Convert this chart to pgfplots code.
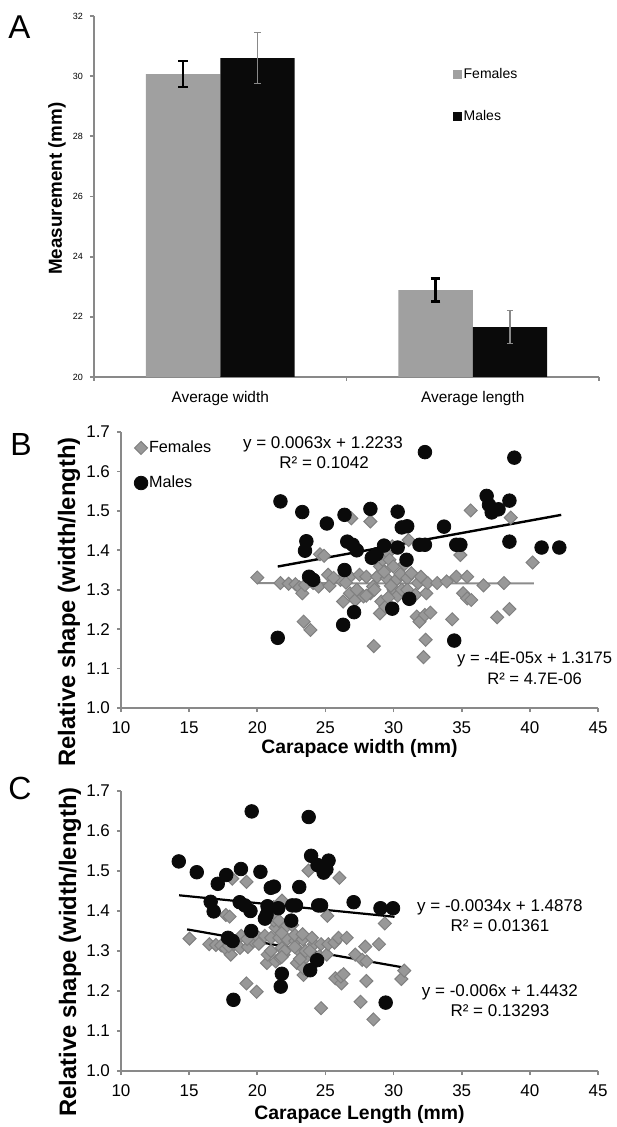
\documentclass[border=0pt]{standalone}
\usepackage{fontspec}
\setmainfont{Liberation Sans}
\usepackage{pgfplots}
\usepackage{pgfplotstable}
\pgfplotsset{compat=1.18}
\definecolor{axgray}{RGB}{137,137,137}
\definecolor{fbar}{RGB}{160,160,160}
\definecolor{mbar}{RGB}{10,10,10}
\definecolor{fdia}{RGB}{152,152,152}
\definecolor{fdiaedge}{RGB}{128,128,128}
\definecolor{fline}{RGB}{140,140,140}

% females: width, ratio (width/length), length
\pgfplotstableread{
w r l
20.0 1.331 15.03
21.7 1.317 16.48
22.3 1.315 16.96
22.8 1.314 17.35
23.1 1.306 17.69
23.4 1.219 19.20
23.9 1.198 19.95
23.3 1.291 18.05
23.5 1.312 17.91
24.1 1.317 18.30
24.5 1.308 18.73
24.6 1.390 17.70
25.2 1.338 18.83
25.3 1.310 19.31
26.1 1.325 19.70
26.3 1.270 20.71
26.8 1.333 20.11
26.8 1.291 20.76
26.9 1.481 18.16
27.2 1.274 21.35
27.5 1.338 20.55
27.8 1.283 21.67
28.0 1.333 21.01
28.3 1.473 19.21
28.3 1.291 21.92
28.5 1.308 21.79
28.55 1.157 24.68
28.8 1.333 21.61
29.0 1.240 23.39
29.0 1.359 21.34
29.1 1.270 22.91
29.2 1.376 21.22
29.4 1.257 23.39
29.5 1.329 22.20
29.6 1.393 21.25
29.7 1.376 21.58
29.98 1.359 22.06
30.2 1.325 22.79
30.0 1.300 23.08
30.3 1.285 23.58
29.8 1.310 22.75
28.6 1.300 22.00
29.3 1.345 21.78
30.5 1.340 22.76
31.0 1.329 23.33
31.3 1.342 23.32
31.1 1.426 21.81
30.8 1.365 22.56
31.6 1.287 24.55
31.7 1.232 25.73
31.8 1.317 24.15
31.9 1.219 26.17
32.0 1.333 24.01
32.2 1.129 28.52
32.3 1.236 26.13
32.35 1.173 27.58
32.4 1.291 25.10
32.5 1.317 24.68
32.7 1.242 26.33
33.2 1.317 25.21
33.9 1.321 25.66
34.3 1.225 28.00
34.6 1.333 25.96
34.9 1.388 25.14
35.1 1.291 27.19
35.4 1.333 26.56
35.4 1.278 27.70
35.66 1.501 23.76
35.7 1.274 28.02
36.6 1.311 27.92
37.6 1.230 30.57
38.1 1.317 28.93
38.5 1.251 30.78
38.6 1.483 26.03
40.2 1.369 29.36
27.3 1.300 21.00
28.0 1.285 21.79
29.6 1.280 23.13
30.6 1.300 23.54
31.0 1.300 23.85
26.5 1.318 20.11
25.6 1.330 19.25
29.9 1.410 21.21
24.9 1.386 17.97
}\females

% males: width, ratio (width/length), length
\pgfplotstableread{
w r l
21.7 1.524 14.24
21.5 1.178 18.25
23.3 1.497 15.56
23.6 1.423 16.58
23.5 1.399 16.80
23.8 1.333 17.85
24.1 1.325 18.19
25.1 1.468 17.10
26.4 1.490 17.72
26.6 1.422 18.71
27.0 1.414 19.09
27.3 1.400 19.50
26.4 1.350 19.56
27.1 1.243 21.80
26.3 1.211 21.72
28.3 1.505 18.80
28.4 1.381 20.56
28.75 1.390 20.68
29.3 1.412 20.75
30.3 1.498 20.23
30.3 1.407 21.54
30.6 1.458 20.99
31.0 1.461 21.22
30.95 1.376 22.49
29.9 1.252 23.88
31.15 1.277 24.39
31.9 1.414 22.56
32.3 1.414 22.84
32.3 1.649 19.59
33.7 1.460 23.08
34.6 1.414 24.47
34.9 1.414 24.68
34.45 1.171 29.42
36.83 1.538 23.95
37.0 1.515 24.42
37.2 1.496 24.87
37.7 1.504 25.07
38.5 1.526 25.23
38.5 1.422 27.07
38.86 1.635 23.77
40.86 1.407 29.04
42.16 1.407 29.96
}\males

\pgfplotsset{
  myaxis/.style={
    scale only axis, clip=false,
    axis x line*=bottom, axis y line*=left,
    axis line style={axgray, line width=0.9pt},
    tick style={axgray, line width=0.9pt},
    tick align=outside, major tick length=2pt,
    /pgf/number format/assume math mode=true,
  },
  femmark/.style={only marks, mark=square*, mark size=2.3pt,
    mark options={rotate=45, fill=fdia, draw=fdiaedge, line width=0.5pt}},
  malemark/.style={only marks, mark=*, mark size=3.4pt,
    mark options={fill=mbar, draw=mbar}},
}

\begin{document}
\begin{tikzpicture}
\useasboundingbox (0,0) rectangle (308pt,-563.5pt);

% ---------- Panel A ----------
\begin{axis}[myaxis,
  at={(47pt,-188.5pt)}, anchor=south west,
  width=252.5pt, height=180.5pt,
  xmin=-0.5, xmax=1.5, ymin=20, ymax=32,
  ytick={20,22,24,26,28,30,32},
  y tick label style={font=\fontsize{4.5}{5}\selectfont},
  xtick={-0.5,0.5,1.5}, xticklabels={,,},
  extra x ticks={0,1},
  extra x tick labels={Average width, Average length},
  extra x tick style={major tick length=0pt,
     tick label style={font=\fontsize{7.7}{9}\selectfont, yshift=-3.5pt}},
  ylabel={\bfseries Measurement (mm)},
  ylabel style={font=\fontsize{9.4}{11}\selectfont,
     at={(axis description cs:-0.073,0.522)}, anchor=center},
  legend style={draw=none, fill=none, at={(axis description cs:0.711,0.859)},
     anchor=north west, font=\fontsize{7}{8}\selectfont, row sep=13pt,
     inner sep=0pt, nodes={inner sep=0.6pt}},
  legend cell align=left,
  legend image code/.code={\path[#1, draw=none] (0pt,-2.1pt) rectangle (4.5pt,2.4pt);},
]
\addplot[ybar, bar width=0.295, bar shift=0pt, fill=fbar, draw=none,
  error bars/.cd, y dir=both, y explicit,
  error bar style={black, line width=1.2pt},
  error mark options={black, line width=1.2pt, mark size=2.4pt, rotate=90}]
  coordinates {(-0.1475,30.07) +- (0,0.43) (0.8525,22.89) +- (0,0.38)};
\addlegendentry{Females}
\addplot[ybar, bar width=0.295, bar shift=0pt, fill=mbar, draw=none,
  error bars/.cd, y dir=both, y explicit,
  error bar style={axgray, line width=0.8pt},
  error mark options={axgray, line width=0.8pt, mark size=1.6pt, rotate=90}]
  coordinates {(0.1475,30.60) +- (0,0.85) (1.1475,21.66) +- (0,0.55)};
\addlegendentry{Males}
\end{axis}
\node[anchor=north west, inner sep=0pt, font=\fontsize{16.5}{17}\selectfont] at (4pt,-7.5pt) {A};

% ---------- Panel B ----------
\begin{axis}[myaxis,
  at={(60.5pt,-354pt)}, anchor=south west,
  width=238.5pt, height=138pt,
  xmin=10, xmax=45, ymin=1, ymax=1.7,
  xtick={10,15,20,25,30,35,40,45},
  ytick={1.0,1.1,1.2,1.3,1.4,1.5,1.6,1.7},
  y tick label style={/pgf/number format/.cd, fixed, fixed zerofill, precision=1},
  tick label style={font=\fontsize{8.5}{10}\selectfont},
  x tick label style={yshift=-1.5pt},
  xlabel={\bfseries Carapace width (mm)},
  xlabel style={font=\fontsize{9.7}{11}\selectfont,
     at={(axis description cs:0.5,-0.148)}, anchor=center},
  ylabel={\bfseries Relative shape (width/length)},
  ylabel style={font=\fontsize{11.9}{13}\selectfont,
     at={(axis description cs:-0.109,0.384)}, anchor=center},
  legend style={draw=none, fill=none, at={(axis description cs:0.027,0.975)},
     anchor=north west, font=\fontsize{8.1}{9}\selectfont, row sep=9pt,
     inner sep=0pt, nodes={inner sep=0.6pt}},
  legend cell align=left,
  legend image code/.code={\draw[#1] plot coordinates {(3pt,0pt)};},
]
\addplot[femmark] table[x=w, y=r] {\females};
\addlegendentry{Females}
\addplot[malemark] table[x=w, y=r] {\males};
\addlegendentry{Males}
\addplot[fline, line width=1pt, forget plot] coordinates {(20.0,1.3167) (40.3,1.3159)};
\addplot[black, line width=1.2pt, forget plot] coordinates {(21.5,1.3588) (42.3,1.4898)};
\node[font=\fontsize{8.5}{10}\selectfont] at (axis cs:24.82,1.670) {y = 0.0063x + 1.2233};
\node[font=\fontsize{8.5}{10}\selectfont] at (axis cs:24.9,1.622) {R² = 0.1042};
\node[font=\fontsize{8.3}{10}\selectfont] at (axis cs:40.35,1.122) {y = -4E-05x + 1.3175};
\node[font=\fontsize{8.3}{10}\selectfont] at (axis cs:40.35,1.074) {R² = 4.7E-06};
\end{axis}
\node[anchor=north west, inner sep=0pt, font=\fontsize{16}{17}\selectfont] at (5pt,-216.5pt) {B};

% ---------- Panel C ----------
\begin{axis}[myaxis,
  at={(60.5pt,-535.5pt)}, anchor=south west,
  width=238.5pt, height=140pt,
  xmin=10, xmax=45, ymin=1, ymax=1.7,
  xtick={10,15,20,25,30,35,40,45},
  ytick={1.0,1.1,1.2,1.3,1.4,1.5,1.6,1.7},
  y tick label style={/pgf/number format/.cd, fixed, fixed zerofill, precision=1},
  tick label style={font=\fontsize{8.5}{10}\selectfont},
  x tick label style={yshift=-1.5pt},
  xlabel={\bfseries Carapace Length (mm)},
  xlabel style={font=\fontsize{9.7}{11}\selectfont,
     at={(axis description cs:0.5,-0.155)}, anchor=center},
  ylabel={\bfseries Relative shape (width/length)},
  ylabel style={font=\fontsize{11.9}{13}\selectfont,
     at={(axis description cs:-0.107,0.425)}, anchor=center},
]
\addplot[femmark] table[x=l, y=r] {\females};
\addplot[malemark] table[x=l, y=r] {\males};
\addplot[black, line width=1.1pt] coordinates {(14.26,1.4393) (30.07,1.3856)};
\addplot[black, line width=1.1pt] coordinates {(14.85,1.3541) (30.9,1.2578)};
\node[font=\fontsize{8.5}{10}\selectfont] at (axis cs:37.8,1.41) {y = -0.0034x + 1.4878};
\node[font=\fontsize{8.5}{10}\selectfont] at (axis cs:37.8,1.3625) {R² = 0.01361};
\node[font=\fontsize{8.5}{10}\selectfont] at (axis cs:37.8,1.1975) {y = -0.006x + 1.4432};
\node[font=\fontsize{8.5}{10}\selectfont] at (axis cs:37.8,1.15) {R² = 0.13293};
\end{axis}
\node[anchor=north west, inner sep=0pt, font=\fontsize{16}{17}\selectfont] at (4pt,-388.5pt) {C};
\end{tikzpicture}
\end{document}
